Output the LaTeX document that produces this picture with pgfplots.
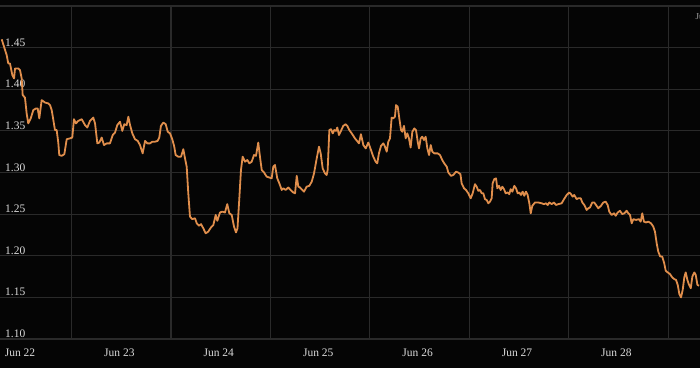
\documentclass[border=0pt]{standalone}
\usepackage{fontspec}
\setmainfont{Liberation Serif}
\usepackage{pgfplots}
\pgfplotsset{compat=1.18}
\usepackage{pgfplotstable}
\definecolor{bg}{HTML}{050505}
\definecolor{gridc}{HTML}{2A2A2A}
\definecolor{linec}{HTML}{E08E4C}
\definecolor{txt}{HTML}{DADADA}
\pgfplotstableread{
d v
-0.184 1.460
-0.134 1.441
-0.118 1.431
-0.101 1.431
-0.077 1.417
-0.060 1.413
-0.050 1.425
-0.017 1.425
0.000 1.423
0.017 1.413
0.027 1.393
0.050 1.390
0.067 1.371
0.083 1.359
0.108 1.365
0.134 1.375
0.161 1.377
0.178 1.377
0.194 1.365
0.218 1.387
0.252 1.384
0.285 1.383
0.302 1.381
0.319 1.375
0.352 1.351
0.369 1.351
0.385 1.336
0.395 1.321
0.419 1.320
0.446 1.322
0.470 1.340
0.503 1.341
0.526 1.342
0.543 1.364
0.563 1.359
0.586 1.362
0.621 1.364
0.654 1.357
0.677 1.354
0.704 1.362
0.737 1.366
0.755 1.359
0.778 1.335
0.798 1.336
0.822 1.342
0.845 1.333
0.872 1.335
0.905 1.335
0.933 1.345
0.956 1.348
0.979 1.357
1.006 1.361
1.029 1.350
1.049 1.358
1.073 1.357
1.090 1.367
1.107 1.357
1.130 1.347
1.157 1.340
1.184 1.338
1.207 1.333
1.234 1.323
1.258 1.338
1.281 1.335
1.308 1.335
1.331 1.337
1.358 1.337
1.385 1.338
1.401 1.342
1.418 1.356
1.442 1.360
1.466 1.358
1.486 1.349
1.509 1.347
1.532 1.340
1.552 1.331
1.566 1.321
1.592 1.319
1.620 1.319
1.643 1.328
1.660 1.317
1.677 1.307
1.693 1.275
1.710 1.247
1.733 1.244
1.761 1.245
1.778 1.239
1.801 1.236
1.821 1.238
1.844 1.233
1.868 1.227
1.894 1.229
1.921 1.234
1.945 1.237
1.969 1.249
1.985 1.242
2.012 1.252
2.035 1.253
2.062 1.252
2.085 1.262
2.106 1.251
2.130 1.249
2.153 1.235
2.173 1.228
2.188 1.233
2.206 1.268
2.223 1.303
2.240 1.319
2.264 1.313
2.287 1.315
2.307 1.311
2.331 1.313
2.354 1.321
2.374 1.320
2.397 1.336
2.414 1.319
2.432 1.303
2.455 1.300
2.482 1.295
2.508 1.294
2.532 1.293
2.548 1.307
2.565 1.309
2.588 1.293
2.609 1.287
2.633 1.279
2.649 1.281
2.673 1.279
2.699 1.282
2.723 1.279
2.749 1.276
2.767 1.275
2.784 1.296
2.800 1.283
2.817 1.282
2.840 1.279
2.857 1.277
2.884 1.283
2.910 1.284
2.935 1.289
2.958 1.299
2.985 1.317
3.008 1.331
3.025 1.323
3.045 1.305
3.068 1.299
3.085 1.297
3.095 1.303
3.112 1.351
3.129 1.352
3.146 1.347
3.162 1.351
3.179 1.350
3.192 1.354
3.209 1.345
3.229 1.350
3.252 1.356
3.276 1.358
3.293 1.356
3.313 1.351
3.337 1.347
3.370 1.341
3.397 1.337
3.410 1.335
3.430 1.346
3.454 1.333
3.478 1.329
3.504 1.336
3.531 1.327
3.554 1.319
3.578 1.313
3.594 1.311
3.611 1.323
3.632 1.332
3.655 1.335
3.672 1.331
3.689 1.325
3.705 1.337
3.722 1.341
3.739 1.366
3.755 1.365
3.772 1.367
3.783 1.381
3.800 1.379
3.816 1.365
3.833 1.351
3.846 1.349
3.863 1.356
3.880 1.341
3.896 1.347
3.913 1.341
3.930 1.330
3.947 1.349
3.967 1.353
3.984 1.351
4.001 1.337
4.014 1.329
4.031 1.341
4.047 1.343
4.064 1.339
4.081 1.343
4.098 1.329
4.115 1.321
4.132 1.333
4.148 1.325
4.168 1.323
4.202 1.323
4.225 1.321
4.248 1.315
4.268 1.311
4.293 1.307
4.309 1.300
4.336 1.296
4.359 1.297
4.386 1.301
4.409 1.300
4.431 1.298
4.443 1.287
4.467 1.281
4.487 1.279
4.510 1.275
4.534 1.269
4.554 1.275
4.577 1.286
4.594 1.283
4.611 1.278
4.628 1.279
4.645 1.275
4.661 1.275
4.678 1.268
4.695 1.267
4.711 1.263
4.728 1.265
4.745 1.269
4.755 1.287
4.771 1.292
4.789 1.293
4.802 1.281
4.819 1.284
4.836 1.279
4.852 1.283
4.869 1.280
4.886 1.275
4.906 1.276
4.922 1.274
4.936 1.280
4.953 1.277
4.973 1.284
4.990 1.281
5.007 1.275
5.023 1.276
5.040 1.273
5.057 1.277
5.073 1.272
5.090 1.277
5.107 1.273
5.124 1.263
5.138 1.251
5.154 1.260
5.181 1.264
5.214 1.264
5.248 1.263
5.271 1.262
5.292 1.263
5.309 1.261
5.325 1.264
5.349 1.262
5.372 1.264
5.392 1.261
5.415 1.262
5.449 1.263
5.473 1.268
5.500 1.273
5.526 1.276
5.543 1.274
5.560 1.271
5.576 1.273
5.600 1.268
5.616 1.269
5.641 1.269
5.657 1.264
5.677 1.261
5.701 1.255
5.717 1.257
5.734 1.258
5.757 1.264
5.777 1.264
5.795 1.261
5.818 1.257
5.845 1.260
5.868 1.264
5.892 1.265
5.912 1.261
5.928 1.253
5.952 1.249
5.976 1.251
5.993 1.248
6.013 1.252
6.036 1.254
6.059 1.250
6.079 1.251
6.103 1.254
6.120 1.251
6.137 1.249
6.154 1.239
6.170 1.244
6.197 1.243
6.227 1.244
6.244 1.241
6.260 1.251
6.277 1.241
6.298 1.240
6.321 1.241
6.348 1.239
6.371 1.235
6.388 1.229
6.405 1.215
6.421 1.205
6.441 1.199
6.461 1.199
6.481 1.191
6.496 1.182
6.516 1.180
6.539 1.178
6.562 1.174
6.582 1.172
6.600 1.171
6.617 1.165
6.633 1.154
6.650 1.150
6.667 1.159
6.683 1.174
6.697 1.180
6.714 1.171
6.731 1.165
6.748 1.161
6.764 1.175
6.784 1.180
6.798 1.177
6.815 1.165
6.832 1.164
}\pricedata
\begin{document}
\begin{tikzpicture}[x=1pt,y=1pt]
\fill[bg, use as bounding box] (0,-29) rectangle (700,339);
\begin{axis}[
  at={(0pt,0pt)}, anchor=south west,
  scale only axis, width=700pt, height=333pt,
  xmin=-0.2012, xmax=6.841, ymin=1.10, ymax=1.50,
  axis line style={draw=none},
  major tick length=0pt,
  xtick={0,1,2,3,4,5,6},
  xticklabels={Jun 22,Jun 23,Jun 24,Jun 25,Jun 26,Jun 27,Jun 28},
  extra x ticks={0.52,1.52,2.52,3.52,4.52,5.52,6.52},
  extra x tick labels={},
  extra x tick style={grid=major, major tick length=0pt},
  ytick={1.10,1.15,1.20,1.25,1.30,1.35,1.40,1.45},
  extra y ticks={1.50},
  extra y tick labels={},
  extra y tick style={grid=major, major tick length=0pt},
  ymajorgrids,
  grid style={gridc, line width=1.2pt},
  major grid style={gridc, line width=1.2pt},
  /pgf/number format/assume math mode=true,
  tick label style={font=\fontsize{11.5}{13}\selectfont, text=txt},
  yticklabel style={anchor=base west, inner sep=0pt, xshift=5pt, yshift=1.5pt,
    /pgf/number format/.cd, fixed, fixed zerofill, precision=2},
  xticklabel style={anchor=north, inner sep=0pt, yshift=-9.3pt},
  clip=true,
]
\addplot[linec, line width=1.8pt, line join=round, mark=none] table[x=d, y=v] {\pricedata};
\end{axis}
\node[anchor=base west, inner sep=0pt, text=black!35, font=\fontsize{9}{10}\selectfont] at (695.5,320) {Jun};
\end{tikzpicture}
\end{document}
